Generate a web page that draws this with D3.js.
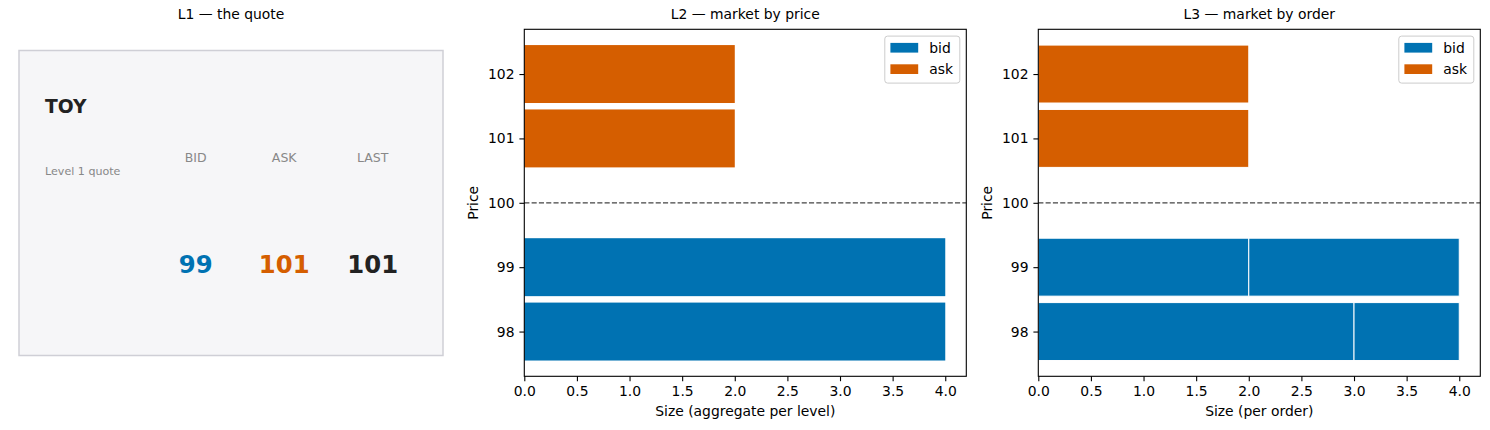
<!DOCTYPE html>
<html>
<head>
<meta charset="utf-8">
<script src="https://cdn.jsdelivr.net/npm/d3@7"></script>
<style>
  body { margin: 0; background: #fff; }
  svg { font-family: "DejaVu Sans", sans-serif; }
</style>
</head>
<body>
<div id="chart"></div>
<script>
// L1 quote
const symbol = "TOY";
const quoteLabels = ["BID", "ASK", "LAST"];
const quoteValues = [99, 101, 101];

// L2 aggregate levels
const bidPrices = [98, 99];
const bidSizes = [4, 4];
const askPrices = [101, 102];
const askSizes = [2, 2];
const midPrice = 100;

// L3 individual orders per level
const bidOrders = [[3, 1], [2, 2]];   // 98, 99
const askOrders = [[2], [2]];         // 101, 102

const xTicks = [0, 0.5, 1, 1.5, 2, 2.5, 3, 3.5, 4];
const yTicks = [98, 99, 100, 101, 102];

const BLUE = "#0072B2", ORANGE = "#D55E00";
const FS = "13.9px"; // 10pt at 100 dpi

const W = 1490, H = 430;
const svg = d3.select("#chart").append("svg")
  .attr("width", W).attr("height", H);

// ---------- panel 1: the quote ----------
const p1 = svg.append("g");
p1.append("text")
  .attr("x", 231).attr("y", 19)
  .attr("text-anchor", "middle")
  .style("font-size", FS)
  .text("L1 \u2014 the quote");

p1.append("rect")
  .attr("x", 19).attr("y", 50.5)
  .attr("width", 424).attr("height", 305)
  .attr("fill", "#f6f6f8")
  .attr("stroke", "#cfcfd6")
  .attr("stroke-width", 1.5);

p1.append("text")
  .attr("x", 45).attr("y", 113)
  .style("font-size", "18.7px").style("font-weight", "bold")
  .attr("fill", "#222")
  .text(symbol);

p1.append("text")
  .attr("x", 45).attr("y", 175)
  .style("font-size", "11.1px")
  .attr("fill", "#888")
  .text("Level 1 quote");

const qx = d3.scalePoint().domain(quoteLabels).range([195.7, 372.7]);
const qColors = [BLUE, ORANGE, "#222"];

p1.selectAll(".qlab")
  .data(quoteLabels)
  .enter().append("text")
  .attr("x", d => qx(d)).attr("y", 161.5)
  .attr("text-anchor", "middle")
  .style("font-size", "12.5px")
  .attr("fill", "#888")
  .text(d => d);

p1.selectAll(".qval")
  .data(quoteValues)
  .enter().append("text")
  .attr("x", (d, i) => qx(quoteLabels[i])).attr("y", 272.5)
  .attr("text-anchor", "middle")
  .style("font-size", "24.3px").style("font-weight", "bold")
  .attr("fill", (d, i) => qColors[i])
  .text(d => d);

// ---------- book panels ----------
const aw = 442, ah = 347;
const barH = 0.9;

function bookPanel(left, title, xlabel, bars) {
  const g = svg.append("g").attr("transform", `translate(${left},29.3)`);

  const x = d3.scaleLinear().domain([0, 4.2]).range([0, aw]);
  const allP = bidPrices.concat(askPrices);
  const lo = d3.min(allP) - barH / 2, hi = d3.max(allP) + barH / 2;
  const pad = (hi - lo) * 0.05;
  const y = d3.scaleLinear().domain([lo - pad, hi + pad]).range([ah, 0]);

  g.selectAll(".bar")
    .data(bars)
    .enter().append("rect")
    .attr("x", d => x(d.x0))
    .attr("width", d => x(d.x1) - x(d.x0))
    .attr("y", d => y(d.price + barH / 2))
    .attr("height", d => y(d.price - barH / 2) - y(d.price + barH / 2))
    .attr("fill", d => d.side === "bid" ? BLUE : ORANGE)
    .attr("stroke", d => d.edge ? "#fff" : "none")
    .attr("stroke-width", 1);

  g.append("line")
    .attr("x1", 0).attr("x2", aw)
    .attr("y1", y(midPrice)).attr("y2", y(midPrice))
    .attr("stroke", "#444").attr("stroke-width", 1.2)
    .attr("stroke-dasharray", "5.1,2.2");

  g.append("rect")
    .attr("width", aw).attr("height", ah)
    .attr("fill", "none").attr("stroke", "#000").attr("stroke-width", 1.1);

  const xa = g.append("g").attr("transform", `translate(0,${ah})`)
    .call(d3.axisBottom(x).tickValues(xTicks).tickFormat(d3.format(".1f"))
      .tickSize(4.9).tickPadding(4.9));
  const ya = g.append("g")
    .call(d3.axisLeft(y).tickValues(yTicks).tickFormat(d3.format("d"))
      .tickSize(4.9).tickPadding(4.9));
  [xa, ya].forEach(a => {
    a.select(".domain").remove();
    a.selectAll("line").attr("stroke", "#000").attr("stroke-width", 1.1);
    a.selectAll("text").attr("fill", "#000")
      .style("font-size", FS).style("font-family", "DejaVu Sans");
  });

  g.append("text")
    .attr("x", aw / 2).attr("y", -10.3)
    .attr("text-anchor", "middle").style("font-size", FS)
    .text(title);
  g.append("text")
    .attr("x", aw / 2).attr("y", 386.5)
    .attr("text-anchor", "middle").style("font-size", FS)
    .text(xlabel);
  g.append("text")
    .attr("transform", `translate(-46,${ah / 2}) rotate(-90)`)
    .attr("text-anchor", "middle").style("font-size", FS)
    .text("Price");

  // legend
  const lg = g.append("g").attr("transform", `translate(${aw - 81.5},6.8)`);
  lg.append("rect")
    .attr("width", 75).attr("height", 47).attr("rx", 2.8)
    .attr("fill", "#fff").attr("fill-opacity", 0.8)
    .attr("stroke", "#ccc").attr("stroke-width", 1);
  [["bid", BLUE], ["ask", ORANGE]].forEach(([lab, col], i) => {
    lg.append("rect")
      .attr("x", 5.6).attr("y", 6.8 + i * 21.4)
      .attr("width", 27.8).attr("height", 9.7)
      .attr("fill", col);
    lg.append("text")
      .attr("x", 44.5).attr("y", 16.8 + i * 21.4)
      .style("font-size", FS)
      .text(lab);
  });
}

// L2 bars: one per level
const l2Bars = [];
bidPrices.forEach((p, i) => l2Bars.push({ side: "bid", price: p, x0: 0, x1: bidSizes[i] }));
askPrices.forEach((p, i) => l2Bars.push({ side: "ask", price: p, x0: 0, x1: askSizes[i] }));

// L3 bars: stacked orders
const l3Bars = [];
function stackOrders(side, prices, orders) {
  prices.forEach((p, i) => {
    let acc = 0;
    orders[i].forEach(s => {
      l3Bars.push({ side, price: p, x0: acc, x1: acc + s, edge: true });
      acc += s;
    });
  });
}
stackOrders("bid", bidPrices, bidOrders);
stackOrders("ask", askPrices, askOrders);

bookPanel(524.3, "L2 \u2014 market by price", "Size (aggregate per level)", l2Bars);
bookPanel(1038.3, "L3 \u2014 market by order", "Size (per order)", l3Bars);
</script>
</body>
</html>
